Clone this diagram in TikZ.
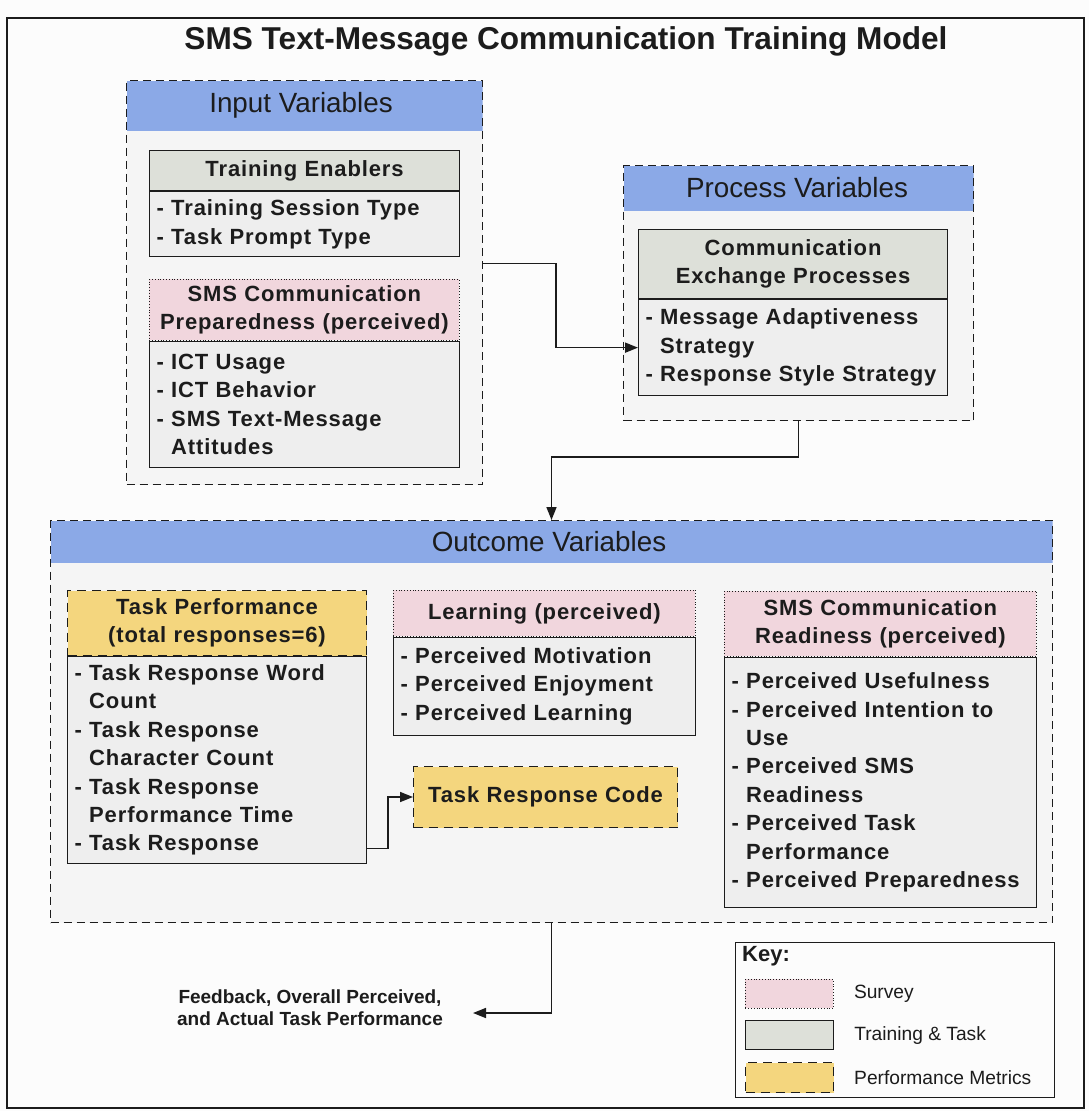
\documentclass[tikz,border=0pt]{standalone}
\usepackage{fontspec}
\setmainfont{Liberation Sans}
\newfontfamily\boxfont[LetterSpace=4]{Liberation Sans}
\usetikzlibrary{arrows.meta}

\definecolor{ink}{HTML}{1C1C1C}
\definecolor{paper}{HTML}{FCFCFC}
\definecolor{bandblue}{HTML}{8BA9E7}
\definecolor{grpbg}{HTML}{F5F5F5}
\definecolor{bodybg}{HTML}{EEEEEE}
\definecolor{trainfill}{HTML}{DDE0D9}
\definecolor{surveyfill}{HTML}{F1D6DD}
\definecolor{metricfill}{HTML}{F4D67E}

% continuation line of a list item, aligned after "- "
\newcommand{\contline}{\hphantom{- }}

\tikzset{
  grp/.style={draw=ink, line width=1pt, dash pattern=on 8pt off 5pt,
    fill=grpbg, anchor=north west, inner sep=0pt,
    path picture={\fill[bandblue] (path picture bounding box.north west)
      rectangle ([yshift=-#1]path picture bounding box.north east);}},
  grptitle/.style={font=\fontsize{27.8}{32}\selectfont, text=ink, inner sep=0pt},
  boxtxt/.style={font={\fontsize{22}{28.4}\boxfont\bfseries}, text=ink},
  hdr/.style={boxtxt, anchor=north west, inner xsep=6pt, inner ysep=0pt, align=center},
  hdrtrain/.style={hdr, fill=trainfill, draw=ink, line width=1.1pt},
  hdrsurvey/.style={hdr, fill=surveyfill, draw=ink, line width=0.8pt, dotted},
  hdrmetric/.style={hdr, fill=metricfill, draw=ink, line width=1pt, dash pattern=on 9pt off 6pt},
  body/.style={boxtxt, anchor=north west, fill=bodybg, draw=ink, line width=1.1pt,
    inner xsep=7pt, inner ysep=0pt, align=left},
  conn/.style={draw=ink, line width=1.6pt, -{Triangle[length=13pt,width=10pt]}},
  keytxt/.style={font=\fontsize{19.2}{22}\selectfont, text=ink, anchor=west, inner sep=0pt},
}

\begin{document}
\begin{tikzpicture}[x=1pt,y=-1pt]
\useasboundingbox (0,0) rectangle (1089,1111);
\fill[paper] (0,0) rectangle (1089,1111);
\draw[ink, line width=1.3pt] (7,18) rectangle (1084,1108);

% title
\node[inner sep=0pt, text=ink] (title) at (566,41)
  {\resizebox{763pt}{!}{\fontsize{31.5}{36}\selectfont\bfseries SMS Text-Message Communication Training Model}};

% ---------- input variables ----------
\node[grp=50pt, minimum width=356pt, minimum height=404pt] (inp) at (126,80) {};
\node[grptitle] (inptitle) at (301,105) {Input Variables};

\node[hdrtrain, minimum width=310pt, minimum height=40pt, text width=298pt] (te) at (149,150) {Training Enablers};
\node[body, minimum width=310pt, minimum height=65pt, text width=296pt] (teb) at (te.south west)
  {- Training Session Type\\- Task Prompt Type};

\node[hdrsurvey, minimum width=310pt, minimum height=61pt, text width=298pt] (prep) at (149,279)
  {SMS Communication\\Preparedness (perceived)};
\node[body, minimum width=310pt, minimum height=126pt, text width=296pt] (prepb) at (prep.south west)
  {- ICT Usage\\- ICT Behavior\\- SMS Text-Message\\\contline Attitudes};

% ---------- process variables ----------
\node[grp=45pt, minimum width=350pt, minimum height=255pt] (proc) at (623,165) {};
\node[grptitle] (proctitle) at (797,188) {Process Variables};

\node[hdrtrain, minimum width=309pt, minimum height=69pt, text width=297pt] (cep) at (638,229)
  {Communication\\Exchange Processes};
\node[body, minimum width=309pt, minimum height=96pt, text width=295pt] (cepb) at (cep.south west)
  {- Message Adaptiveness\\\contline Strategy\\- Response Style Strategy};

% ---------- outcome variables ----------
\node[grp=42pt, minimum width=1002pt, minimum height=402pt] (out) at (50,520) {};
\node[grptitle] (outtitle) at (549,542) {Outcome Variables};

\node[hdrmetric, minimum width=299pt, minimum height=65pt, text width=287pt] (tp) at (67,590)
  {Task Performance\\(total responses=6)};
\node[body, minimum width=299pt, minimum height=207pt, text width=285pt] (tpb) at (tp.south west)
  {- Task Response Word\\\contline Count\\- Task Response\\\contline Character Count\\- Task Response\\\contline Performance Time\\- Task Response};

\node[hdrsurvey, minimum width=302pt, minimum height=46pt, text width=290pt] (learn) at (393,590)
  {Learning (perceived)};
\node[body, minimum width=302pt, minimum height=98pt, text width=288pt] (learnb) at (learn.south west)
  {- Perceived Motivation\\- Perceived Enjoyment\\- Perceived Learning};

\node[hdrmetric, minimum width=264pt, minimum height=61pt, text width=252pt] (trc) at (413,766)
  {Task Response Code};

\node[hdrsurvey, minimum width=312pt, minimum height=65pt, text width=300pt] (ready) at (724,591)
  {SMS Communication\\Readiness (perceived)};
\node[body, minimum width=312pt, minimum height=250pt, text width=298pt] (readyb) at (ready.south west)
  {- Perceived Usefulness\\- Perceived Intention to\\\contline Use\\- Perceived SMS\\\contline Readiness\\- Perceived Task\\\contline Performance\\- Perceived Preparedness\\[4pt]};

% ---------- connectors ----------
\draw[conn] ([yshift=19pt]inp.east) -- ++(73,0) |- (cepb.west);
\draw[conn] (proc.south) -- ++(0,36) -| (out.north);
\draw[conn] ([yshift=-88.5pt]tpb.east) -- ++(21,0) |- (trc.west);

\node[font={\fontsize{19}{22}\selectfont\bfseries}, text=ink, align=center, inner sep=0pt] (fb) at (310,1008)
  {Feedback, Overall Perceived,\\and Actual Task Performance};
\coordinate (fbend) at (473,1013);
\draw[conn] (out.south) |- (fbend);

% ---------- key ----------
\node[draw=ink, line width=1.3pt, fill=paper, anchor=north west, minimum width=319pt, minimum height=155pt, inner sep=0pt] (key) at (735,942) {};
\node[font={\fontsize{22}{26}\selectfont\bfseries}, text=ink, anchor=north west, inner sep=0pt] (keytitle) at (742,946) {Key:};
\node[fill=surveyfill, draw=ink, line width=0.8pt, dotted, anchor=north west, minimum width=88pt, minimum height=29pt, inner sep=0pt] (ksurvey) at (745,979) {};
\node[fill=trainfill, draw=ink, line width=1.1pt, anchor=north west, minimum width=88pt, minimum height=29pt, inner sep=0pt] (ktrain) at (745,1020) {};
\node[fill=metricfill, draw=ink, line width=1pt, dash pattern=on 9pt off 6pt, anchor=north west, minimum width=88pt, minimum height=30pt, inner sep=0pt] (kmetric) at (745,1062) {};
\node[keytxt] (lsurvey) at ([xshift=20pt]ksurvey.east) {Survey};
\node[keytxt] (ltrain) at ([xshift=20pt]ktrain.east) {Training \& Task};
\node[keytxt] (lmetric) at ([xshift=20pt]kmetric.east) {Performance Metrics};
\end{tikzpicture}
\end{document}
